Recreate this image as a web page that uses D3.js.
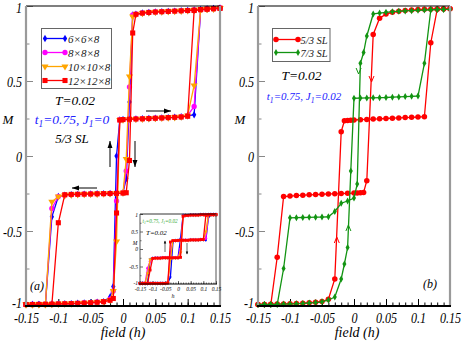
<!DOCTYPE html>
<html>
<head>
<meta charset="utf-8">
<script src="https://cdn.jsdelivr.net/npm/d3@7"></script>
<style>
body { margin: 0; background: #fff; }
svg text { font-family: "Liberation Serif", "Times New Roman", serif; font-style: italic; }
</style>
</head>
<body>
<div id="chart"></div>
<script>
// field values, descending branch then ascending branch
const hDown = [0.15,0.14,0.13,0.12,0.11,0.10,0.09,0.08,0.07,0.06,0.05,0.04,0.03,0.02,0.015,0.01,0.005,0,-0.01,-0.02,-0.03,-0.04,-0.05,-0.06,-0.07,-0.08,-0.09,-0.10,-0.11,-0.12,-0.13,-0.14,-0.15];
const hUp = [-0.15,-0.14,-0.13,-0.12,-0.11,-0.10,-0.09,-0.08,-0.07,-0.06,-0.05,-0.04,-0.03,-0.02,-0.015,-0.01,-0.005,0,0.01,0.02,0.03,0.04,0.05,0.06,0.07,0.08,0.09,0.10,0.11,0.12,0.13,0.14,0.15];

// panel (a): 5/3 SL, t1=0.75, J1=0
const m6Down = [0.985,0.982,0.979,0.976,0.973,0.970,0.968,0.966,0.964,0.962,0.960,0.957,0.953,0.945,0.94,0.36,-0.15,-0.245,-0.249,-0.250,-0.251,-0.252,-0.253,-0.254,-0.256,-0.258,-0.262,-0.27,-0.405,-0.99,-0.99,-0.99,-0.99];
const m6Up = [-0.99,-0.99,-0.989,-0.988,-0.987,-0.986,-0.985,-0.984,-0.982,-0.980,-0.978,-0.975,-0.971,-0.94,-0.87,0.0,0.24,0.243,0.245,0.247,0.248,0.250,0.252,0.254,0.256,0.258,0.262,0.268,0.275,0.975,0.98,0.983,0.985];
const m8Down = [0.985,0.982,0.979,0.976,0.973,0.970,0.968,0.966,0.964,0.962,0.960,0.957,0.953,0.945,0.94,0.46,-0.10,-0.245,-0.249,-0.250,-0.251,-0.252,-0.253,-0.254,-0.256,-0.258,-0.262,-0.27,-0.35,-0.99,-0.99,-0.99,-0.99];
const m8Up = [-0.99,-0.99,-0.989,-0.988,-0.987,-0.986,-0.985,-0.984,-0.982,-0.980,-0.978,-0.975,-0.971,-0.955,-0.90,-0.30,0.24,0.243,0.245,0.247,0.248,0.250,0.252,0.254,0.256,0.258,0.262,0.27,0.33,0.975,0.98,0.983,0.985];
const m10Down = [0.985,0.982,0.979,0.976,0.973,0.970,0.968,0.966,0.964,0.962,0.960,0.957,0.953,0.945,0.93,0.53,-0.02,-0.245,-0.249,-0.250,-0.251,-0.252,-0.253,-0.254,-0.256,-0.258,-0.262,-0.27,-0.305,-0.99,-0.99,-0.99,-0.99];
const m10Up = [-0.99,-0.99,-0.989,-0.988,-0.987,-0.986,-0.985,-0.984,-0.982,-0.980,-0.978,-0.975,-0.971,-0.96,-0.90,-0.57,0.24,0.243,0.245,0.247,0.248,0.250,0.252,0.254,0.256,0.258,0.262,0.27,0.47,0.975,0.98,0.983,0.985];
const m12Down = [0.985,0.982,0.979,0.976,0.973,0.970,0.968,0.966,0.964,0.962,0.960,0.957,0.953,0.945,0.82,-0.03,-0.245,-0.247,-0.249,-0.250,-0.251,-0.252,-0.253,-0.254,-0.255,-0.256,-0.258,-0.445,-0.99,-0.99,-0.99,-0.99,-0.99];
const m12Up = [-0.99,-0.99,-0.989,-0.988,-0.987,-0.986,-0.985,-0.984,-0.982,-0.980,-0.978,-0.975,-0.971,-0.962,-0.95,-0.38,0.24,0.243,0.245,0.247,0.248,0.250,0.252,0.254,0.256,0.258,0.26,0.265,0.97,0.976,0.98,0.983,0.985];

// inset: t1=0.75, J1=0.02
const hInDown = [0.15,0.14,0.13,0.12,0.11,0.10,0.09,0.08,0.07,0.06,0.05,0.04,0.03,0.02,0.01,0,-0.01,-0.02,-0.03,-0.04,-0.05,-0.06,-0.07,-0.08,-0.09,-0.10,-0.11,-0.12,-0.13,-0.14,-0.15];
const hInUp = [-0.15,-0.14,-0.13,-0.12,-0.11,-0.10,-0.09,-0.08,-0.07,-0.06,-0.05,-0.04,-0.03,-0.02,-0.01,0,0.01,0.02,0.03,0.04,0.05,0.06,0.07,0.08,0.09,0.10,0.11,0.12,0.13,0.14,0.15];
const in6Down = [0.98,0.98,0.98,0.98,0.98,0.98,0.98,0.97,0.97,0.97,0.97,0.96,0.96,0.96,0.30,-0.25,-0.25,-0.25,-0.25,-0.25,-0.25,-0.25,-0.26,-0.26,-0.26,-0.27,-0.30,-0.98,-0.98,-0.98,-0.98];
const in6Up = [-0.98,-0.98,-0.98,-0.98,-0.98,-0.98,-0.98,-0.98,-0.98,-0.98,-0.98,-0.97,-0.80,0.20,0.24,0.245,0.25,0.25,0.25,0.25,0.26,0.26,0.26,0.26,0.27,0.27,0.26,0.90,0.98,0.98,0.98];
const in8Down = [0.98,0.98,0.98,0.98,0.98,0.98,0.98,0.97,0.97,0.97,0.97,0.96,0.96,0.95,0.0,-0.25,-0.25,-0.25,-0.25,-0.25,-0.25,-0.25,-0.26,-0.26,-0.26,-0.27,-0.35,-0.55,-0.98,-0.98,-0.98];
const in8Up = [-0.98,-0.98,-0.98,-0.98,-0.98,-0.98,-0.98,-0.98,-0.98,-0.98,-0.98,-0.97,-0.10,0.24,0.24,0.245,0.25,0.25,0.25,0.25,0.26,0.26,0.26,0.26,0.27,0.27,0.30,0.97,0.98,0.98,0.98];
const in10Down = [0.98,0.98,0.98,0.98,0.98,0.98,0.98,0.97,0.97,0.97,0.97,0.96,0.96,0.95,-0.10,-0.25,-0.25,-0.25,-0.25,-0.25,-0.25,-0.25,-0.26,-0.26,-0.26,-0.27,-0.30,-0.70,-0.98,-0.98,-0.98];
const in10Up = [-0.98,-0.98,-0.98,-0.98,-0.98,-0.98,-0.98,-0.98,-0.98,-0.98,-0.98,-0.97,-0.30,0.24,0.24,0.245,0.25,0.25,0.25,0.25,0.26,0.26,0.26,0.26,0.27,0.27,0.50,0.97,0.98,0.98,0.98];
const in12Down = [0.98,0.98,0.98,0.98,0.98,0.98,0.98,0.97,0.97,0.97,0.97,0.96,0.96,0.93,-0.24,-0.25,-0.25,-0.25,-0.25,-0.25,-0.25,-0.25,-0.26,-0.26,-0.26,-0.27,-0.60,-0.98,-0.98,-0.98,-0.98];
const in12Up = [-0.98,-0.98,-0.98,-0.98,-0.98,-0.98,-0.98,-0.98,-0.98,-0.98,-0.98,-0.97,0.20,0.24,0.24,0.245,0.25,0.25,0.25,0.25,0.26,0.26,0.26,0.26,0.27,0.27,0.96,0.97,0.98,0.98,0.98];

// panel (b): t1=0.75, J1=0.02
const sl53Down = [0.982,0.981,0.980,0.979,0.978,0.976,0.973,0.970,0.965,0.958,0.946,0.918,0.81,-0.165,-0.243,-0.245,-0.246,-0.247,-0.249,-0.250,-0.252,-0.253,-0.255,-0.257,-0.259,-0.261,-0.264,-0.267,-0.27,-0.675,-0.99,-0.99,-0.99];
const sl53Up = [-0.99,-0.99,-0.988,-0.987,-0.986,-0.985,-0.983,-0.981,-0.978,-0.975,-0.97,-0.955,-0.82,0.162,0.235,0.237,0.238,0.24,0.242,0.244,0.246,0.248,0.25,0.252,0.254,0.256,0.258,0.26,0.262,0.755,0.978,0.98,0.982];
const sl73Down = [0.978,0.977,0.976,0.975,0.973,0.971,0.969,0.967,0.965,0.962,0.958,0.953,0.947,0.80,0.69,0.618,-0.187,-0.28,-0.30,-0.315,-0.37,-0.405,-0.407,-0.408,-0.409,-0.41,-0.411,-0.412,-0.75,-0.99,-0.99,-0.99,-0.99];
const sl73Up = [-0.99,-0.99,-0.99,-0.988,-0.987,-0.986,-0.985,-0.983,-0.98,-0.977,-0.972,-0.96,-0.94,-0.82,-0.72,-0.61,-0.10,0.385,0.386,0.387,0.388,0.389,0.39,0.392,0.394,0.396,0.398,0.40,0.618,0.975,0.977,0.978,0.978];

const xTicks = [-0.15,-0.1,-0.05,0,0.05,0.1,0.15];
const xTickLabels = ["-0.15","-0.1","-0.05","0","0.05","0.1","0.15"];
const yTicks = [-1,-0.5,0,0.5,1];
const yTickLabels = ["-1","-0.5","0","0.5","1"];
const yMinor = [-0.75,-0.25,0.25,0.75];

const svg = d3.select("#chart").append("svg")
    .attr("width", 463)
    .attr("height", 343);

const defs = svg.append("defs");
defs.append("marker").attr("id", "ah")
    .attr("viewBox", "0 0 10 10").attr("refX", 10).attr("refY", 5)
    .attr("markerWidth", 7).attr("markerHeight", 7).attr("orient", "auto")
    .attr("markerUnits", "userSpaceOnUse")
    .append("path").attr("d", "M0,1.5L10,5L0,8.5Z").attr("fill", "#000");

const symbolFor = function (kind, size) {
    const types = {
        square: d3.symbolSquare,
        circle: d3.symbolCircle,
        diamond: d3.symbolDiamond,
        tri: d3.symbolTriangle
    };
    return d3.symbol(types[kind], size)();
};

const drawAxes = function (g, x, y, o) {
    const y0 = y.range()[0];
    const x0 = x.range()[0];
    // minor x ticks
    g.append("g").attr("transform", `translate(0,${y0})`)
        .call(d3.axisBottom(x).tickValues(d3.range(-0.15, 0.1501, 0.01)).tickSize(-o.minor).tickFormat(""))
        .call(s => s.select(".domain").remove())
        .call(s => s.selectAll("line").attr("stroke", "#000").attr("stroke-width", o.tw));
    const xa = g.append("g").attr("transform", `translate(0,${y0})`)
        .call(d3.axisBottom(x).tickValues(xTicks).tickSize(-o.major).tickFormat((d, i) => xTickLabels[i]))
        .call(s => s.select(".domain").remove());
    xa.selectAll("line").attr("stroke", "#000").attr("stroke-width", o.tw);
    xa.selectAll("text")
        .attr("y", o.xly).attr("dy", 0)
        .attr("font-size", o.fs).attr("fill", "#000")
        .attr("transform", `scale(${o.sx},1)`);

    g.append("g").attr("transform", `translate(${x0},0)`)
        .call(d3.axisLeft(y).tickValues(yMinor).tickSize(-o.minor).tickFormat(""))
        .call(s => s.select(".domain").remove())
        .call(s => s.selectAll("line").attr("stroke", o.yc).attr("stroke-width", o.tw));
    const ya = g.append("g").attr("transform", `translate(${x0},0)`)
        .call(d3.axisLeft(y).tickValues(yTicks).tickSize(-o.major).tickFormat((d, i) => yTickLabels[i]))
        .call(s => s.select(".domain").remove());
    ya.selectAll("line").attr("stroke", o.yc).attr("stroke-width", o.tw);
    ya.selectAll("text")
        .attr("x", o.yx)
        .attr("dy", d => d === 1 ? "0.45em" : (d === -1 ? "0.1em" : "0.34em"))
        .attr("font-size", o.fs).attr("fill", "#000")
        .attr("transform", `scale(${o.sx},1)`);
};

const drawFrame = function (g, x, y, o) {
    const [l, r] = x.range();
    const [b, t] = y.range();
    g.append("line").attr("x1", l).attr("x2", r).attr("y1", t).attr("y2", t).attr("stroke", o.top).attr("stroke-width", o.tw1);
    g.append("line").attr("x1", r).attr("x2", r).attr("y1", t).attr("y2", b).attr("stroke", o.side).attr("stroke-width", o.sw);
    g.append("line").attr("x1", l).attr("x2", l).attr("y1", t).attr("y2", b).attr("stroke", o.side).attr("stroke-width", o.sw);
    g.append("line").attr("x1", l - 1).attr("x2", r + 1).attr("y1", b).attr("y2", b).attr("stroke", o.top).attr("stroke-width", o.bw);
};

const drawSeries = function (g, x, y, s, size, lw) {
    const pts = s.hd.map((h, i) => [h, s.down[i]]).concat(s.hu.map((h, i) => [h, s.up[i]]));
    g.append("path").datum(pts)
        .attr("fill", "none").attr("stroke", s.color).attr("stroke-width", lw)
        .attr("d", d3.line().x(d => x(d[0])).y(d => y(d[1])));
    g.append("g").selectAll("path").data(pts).join("path")
        .attr("transform", d => `translate(${x(d[0])},${y(d[1])})` + (s.sym === "tri" ? " rotate(180)" : ""))
        .attr("d", symbolFor(s.sym, size[s.sym]))
        .attr("fill", s.color);
};

const addText = function (g, px, py, parts, o) {
    const t = g.append("text").attr("x", px).attr("y", py)
        .attr("font-size", o.fs).attr("fill", o.color || "#000")
        .attr("text-anchor", o.anchor || "start");
    parts.forEach(p => {
        const ts = t.append("tspan").text(p[0]);
        if (p[1] === "sub") ts.attr("font-size", o.fs * 0.7).attr("dy", o.fs * 0.25);
        if (p[1] === "up") ts.attr("dy", -o.fs * 0.25);
    });
    return t;
};

// ---------------- panel (a) ----------------
const xa = d3.scaleLinear().domain([-0.15, 0.15]).range([26, 220]);
const ya = d3.scaleLinear().domain([-1, 1]).range([306, 6]);
const gA = svg.append("g");

const seriesA = [
    { name: "6×6×8", color: "#0000ff", sym: "diamond", hd: hDown, hu: hUp, down: m6Down, up: m6Up },
    { name: "8×8×8", color: "#ff00ff", sym: "circle", hd: hDown, hu: hUp, down: m8Down, up: m8Up },
    { name: "10×10×8", color: "#ffa500", sym: "tri", hd: hDown, hu: hUp, down: m10Down, up: m10Up },
    { name: "12×12×8", color: "#ff0000", sym: "square", hd: hDown, hu: hUp, down: m12Down, up: m12Up }
];
const sizeA = { square: 26, circle: 22, tri: 22, diamond: 16 };

drawAxes(gA, xa, ya, { minor: 3.5, major: 7, tw: 1, xly: 17, yx: -5, fs: 15.5, sx: 0.78, yc: "#888" });
seriesA.forEach(s => drawSeries(gA, xa, ya, s, sizeA, 1.3));
drawFrame(gA, xa, ya, { top: "#000", side: "#9a9a9a", tw1: 1.2, sw: 2.2, bw: 1.8 });

// legend (a)
const legA = gA.append("g");
legA.append("rect").attr("x", 41.5).attr("y", 28.5).attr("width", 70).attr("height", 60)
    .attr("fill", "#fff").attr("stroke", "#666").attr("stroke-width", 1);
seriesA.forEach((s, i) => {
    const ly = 38.5 + i * 14;
    legA.append("line").attr("x1", 45).attr("x2", 65).attr("y1", ly).attr("y2", ly)
        .attr("stroke", s.color).attr("stroke-width", 1.3);
    [45, 65].forEach(px => legA.append("path")
        .attr("transform", `translate(${px},${ly})` + (s.sym === "tri" ? " rotate(180)" : ""))
        .attr("d", symbolFor(s.sym, sizeA[s.sym])).attr("fill", s.color));
    legA.append("text").attr("x", 68).attr("y", ly + 4).attr("font-size", 11).attr("fill", "#222").text(s.name);
});

addText(gA, 75, 105, [["T=0.02"]], { fs: 13.5, anchor: "middle" });
addText(gA, 72, 124, [["t"], ["1", "sub"], ["=0.75, J", "up"], ["1", "sub"], ["=0", "up"]], { fs: 13.5, anchor: "middle", color: "#2222ff" });
addText(gA, 72, 143, [["5/3 SL"]], { fs: 13, anchor: "middle" });
addText(gA, 30, 290, [["(a)"]], { fs: 12 });
addText(gA, 8, 124, [["M"]], { fs: 13, anchor: "middle" });
addText(gA, 123, 337, [["field (h)"]], { fs: 14, anchor: "middle" });

// arrows (a)
gA.append("line").attr("x1", 146).attr("y1", 111).attr("x2", 171).attr("y2", 111).attr("stroke", "#000").attr("marker-end", "url(#ah)");
gA.append("line").attr("x1", 97).attr("y1", 188).attr("x2", 72).attr("y2", 188).attr("stroke", "#000").attr("marker-end", "url(#ah)");
gA.append("line").attr("x1", 110).attr("y1", 167).attr("x2", 110).attr("y2", 141).attr("stroke", "#000").attr("marker-end", "url(#ah)");
gA.append("line").attr("x1", 135).attr("y1", 141).attr("x2", 135).attr("y2", 167).attr("stroke", "#000").attr("marker-end", "url(#ah)");

// inset
const xi = d3.scaleLinear().domain([-0.15, 0.15]).range([140, 216]);
const yi = d3.scaleLinear().domain([-1, 1]).range([284, 214]);
const gI = gA.append("g");
gI.append("rect").attr("x", 140).attr("y", 214).attr("width", 76).attr("height", 70).attr("fill", "#fff");
const seriesI = [
    { color: "#0000ff", sym: "diamond", hd: hInDown, hu: hInUp, down: in6Down, up: in6Up },
    { color: "#ff00ff", sym: "circle", hd: hInDown, hu: hInUp, down: in8Down, up: in8Up },
    { color: "#ffa500", sym: "tri", hd: hInDown, hu: hInUp, down: in10Down, up: in10Up },
    { color: "#ff0000", sym: "square", hd: hInDown, hu: hInUp, down: in12Down, up: in12Up }
];
const sizeI = { square: 8, circle: 6, tri: 6, diamond: 5 };
drawAxes(gI, xi, yi, { minor: 1.5, major: 3, tw: 0.6, xly: 7, yx: -2, fs: 5.5, sx: 1, yc: "#000" });
seriesI.forEach(s => drawSeries(gI, xi, yi, s, sizeI, 1.3));
drawFrame(gI, xi, yi, { top: "#000", side: "#555", tw1: 0.8, sw: 1, bw: 1 });
addText(gI, 142.5, 223, [["t"], ["1", "sub"], ["=0.75, J", "up"], ["1", "sub"], ["=0.02", "up"]], { fs: 5.2, color: "#33aa33" });
addText(gI, 146, 235, [["T=0.02"]], { fs: 7 });
addText(gI, 135, 245, [["M"]], { fs: 5.5, anchor: "middle" });
addText(gI, 173, 298, [["h"]], { fs: 6, anchor: "middle" });
gI.append("line").attr("x1", 165).attr("y1", 252).attr("x2", 165).attr("y2", 241).attr("stroke", "#000").attr("stroke-width", 0.6);
gI.append("path").attr("d", "M163.8,243.5L165,240.5L166.2,243.5Z").attr("fill", "#000");
gI.append("line").attr("x1", 187).attr("y1", 243).attr("x2", 187).attr("y2", 254).attr("stroke", "#000").attr("stroke-width", 0.6);
gI.append("path").attr("d", "M185.8,251.5L187,254.5L188.2,251.5Z").attr("fill", "#000");

// ---------------- panel (b) ----------------
const xb = d3.scaleLinear().domain([-0.15, 0.15]).range([258, 450]);
const yb = d3.scaleLinear().domain([-1, 1]).range([306, 6]);
const gB = svg.append("g");
const seriesB = [
    { name: "5/3 SL", color: "#ff0000", sym: "circle", hd: hDown, hu: hUp, down: sl53Down, up: sl53Up },
    { name: "7/3 SL", color: "#129412", sym: "diamond", hd: hDown, hu: hUp, down: sl73Down, up: sl73Up }
];
const sizeB = { circle: 24, diamond: 14 };

drawAxes(gB, xb, yb, { minor: 3.5, major: 7, tw: 1, xly: 17, yx: -5, fs: 15.5, sx: 0.78, yc: "#888" });
seriesB.forEach(s => drawSeries(gB, xb, yb, s, sizeB, 1.3));
drawFrame(gB, xb, yb, { top: "#000", side: "#9a9a9a", tw1: 1.2, sw: 2.2, bw: 1.8 });

const legB = gB.append("g");
legB.append("rect").attr("x", 272.5).attr("y", 28.5).attr("width", 57.5).attr("height", 33)
    .attr("fill", "#fff").attr("stroke", "#666").attr("stroke-width", 1);
seriesB.forEach((s, i) => {
    const ly = 39.5 + i * 13;
    legB.append("line").attr("x1", 276).attr("x2", 298).attr("y1", ly).attr("y2", ly)
        .attr("stroke", s.color).attr("stroke-width", 1.3);
    [276, 298].forEach(px => legB.append("path").attr("transform", `translate(${px},${ly})`)
        .attr("d", symbolFor(s.sym, sizeB[s.sym])).attr("fill", s.color));
    legB.append("text").attr("x", 300.5).attr("y", ly + 4).attr("font-size", 10.5).attr("fill", "#222").text(s.name);
});

addText(gB, 301.5, 80, [["T=0.02"]], { fs: 13.5, anchor: "middle" });
addText(gB, 304, 100, [["t"], ["1", "sub"], ["=0.75, J", "up"], ["1", "sub"], ["=0.02", "up"]], { fs: 11, anchor: "middle", color: "#2222ff" });
addText(gB, 423, 288, [["(b)"]], { fs: 12 });
addText(gB, 240, 124, [["M"]], { fs: 13, anchor: "middle" });
addText(gB, 357, 337, [["field (h)"]], { fs: 14, anchor: "middle" });

// open arrowheads on the branches (b)
const chevron = function (px, py, dir, color) {
    const d = dir === "down" ? "M-2.5,-3L0,3L2.5,-3" : "M-2.5,3L0,-3L2.5,3";
    gB.append("path").attr("transform", `translate(${px},${py})`).attr("d", d)
        .attr("fill", "none").attr("stroke", color).attr("stroke-width", 1);
};
chevron(371.5, 79, "down", "#ff0000");
chevron(336.8, 240, "up", "#ff0000");
chevron(358.6, 71, "down", "#129412");
chevron(348.4, 228, "up", "#129412");
</script>
</body>
</html>
